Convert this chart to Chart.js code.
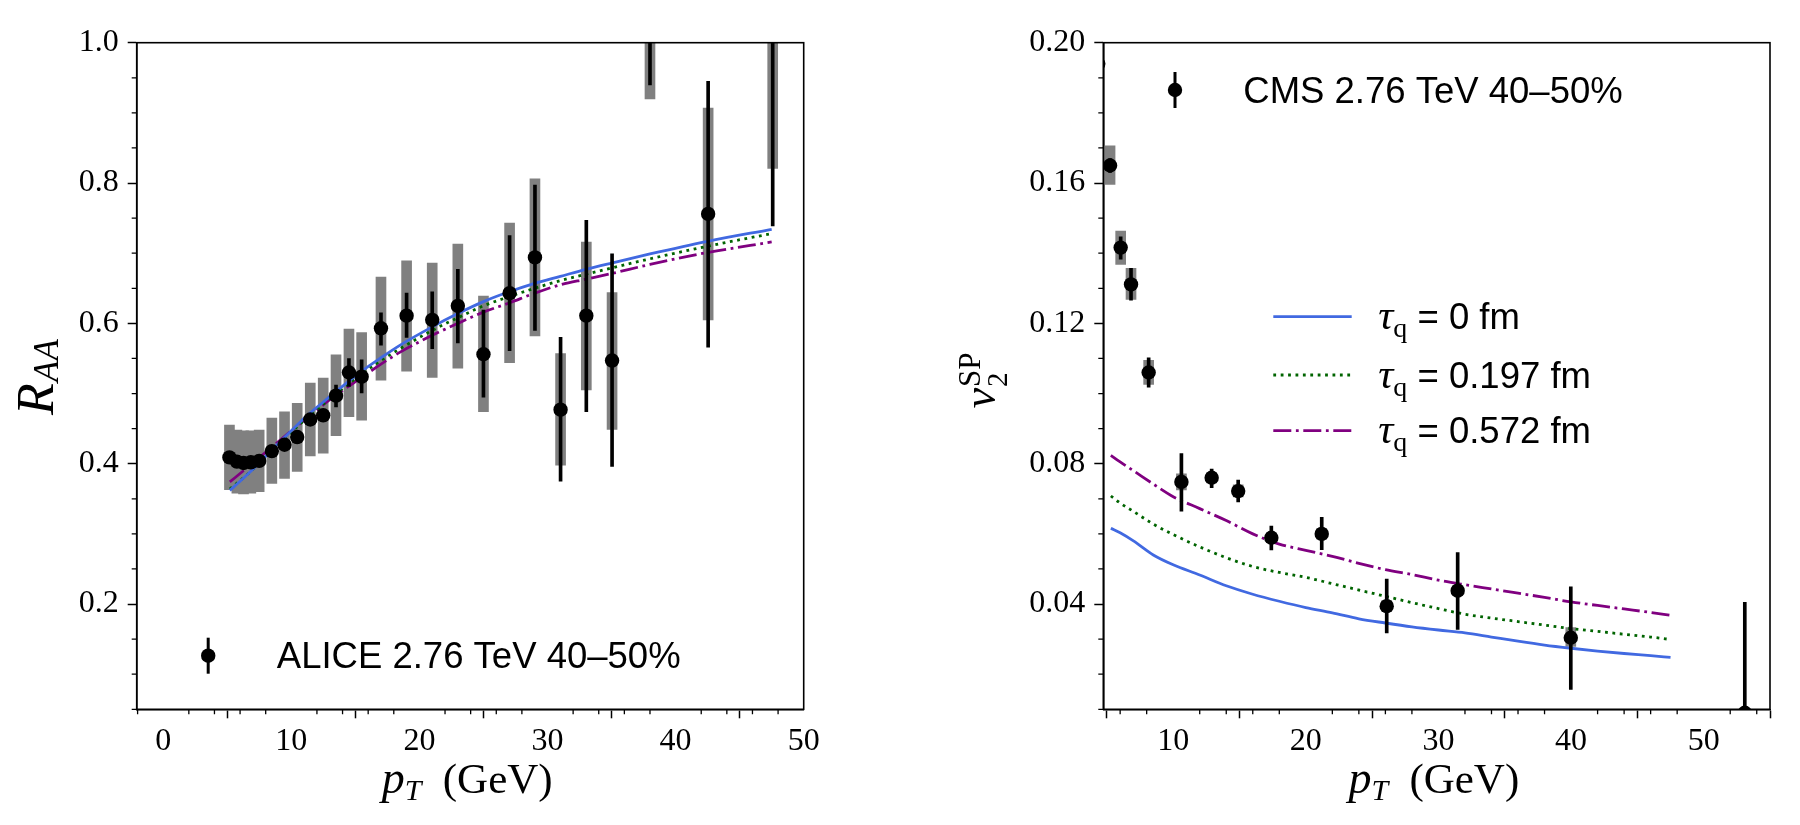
<!DOCTYPE html>
<html>
<head>
<meta charset="utf-8">
<script src="https://cdn.jsdelivr.net/npm/chart.js@4.4.1/dist/chart.umd.min.js"></script>
<style>
  html, body { margin: 0; padding: 0; background: #fff; }
  #wrap { position: relative; width: 1800px; height: 825px; }
  canvas { position: absolute; top: 0; }
  #raaChart { left: 0; }
  #v2Chart { left: 900px; }
</style>
</head>
<body>
<div id="wrap">
  <canvas id="raaChart" width="900" height="825"></canvas>
  <canvas id="v2Chart" width="900" height="825"></canvas>
</div>
<script>
// ---- left panel: ALICE R_AA 40-50% ----
const aliceX = [5.17, 5.75, 6.27, 6.84, 7.49, 8.48, 9.47, 10.46, 11.48, 12.49, 13.49, 14.5, 15.49, 17.0, 19.0, 21.0, 23.0, 25.0, 27.04, 29.02, 31.02, 33.03, 35.04, 38.0, 42.54, 47.58];
const aliceY = [0.409, 0.403, 0.401, 0.402, 0.404, 0.418, 0.427, 0.438, 0.463, 0.469, 0.497, 0.530, 0.524, 0.593, 0.611, 0.605, 0.625, 0.556, 0.643, 0.694, 0.477, 0.611, 0.547, 1.10, 0.756, 1.12];
const aliceStatLo = [0.405, 0.399, 0.397, 0.398, 0.400, 0.414, 0.422, 0.433, 0.457, 0.463, 0.481, 0.510, 0.501, 0.569, 0.580, 0.564, 0.572, 0.495, 0.561, 0.590, 0.375, 0.474, 0.396, 0.94, 0.566, 0.739];
const aliceStatHi = [0.413, 0.407, 0.405, 0.406, 0.408, 0.422, 0.431, 0.443, 0.469, 0.475, 0.512, 0.550, 0.548, 0.615, 0.643, 0.645, 0.677, 0.619, 0.725, 0.797, 0.580, 0.747, 0.699, 1.26, 0.945, 1.50];
const aliceSysLo = [0.363, 0.358, 0.357, 0.358, 0.360, 0.372, 0.379, 0.389, 0.411, 0.415, 0.440, 0.467, 0.462, 0.519, 0.532, 0.523, 0.536, 0.474, 0.544, 0.582, 0.398, 0.505, 0.449, 0.92, 0.605, 0.821];
const aliceSysHi = [0.455, 0.448, 0.447, 0.447, 0.448, 0.465, 0.474, 0.486, 0.515, 0.522, 0.555, 0.592, 0.587, 0.666, 0.689, 0.686, 0.713, 0.639, 0.743, 0.806, 0.557, 0.716, 0.644, 1.28, 0.907, 1.42];

// model curves for R_AA
const raaCurveX = [5.2, 6, 7, 8.5, 10, 11.2, 12.5, 13.5, 15.5, 17, 18.5, 21, 23, 25, 27, 29, 31, 33, 35, 38, 42.5, 47.5];
const raaTau0 = [0.362, 0.375, 0.392, 0.420, 0.447, 0.468, 0.488, 0.503, 0.532, 0.551, 0.569, 0.595, 0.614, 0.631, 0.645, 0.657, 0.667, 0.677, 0.686, 0.699, 0.717, 0.734];
const raaTau197 = [0.364, 0.376, 0.392, 0.419, 0.445, 0.465, 0.485, 0.500, 0.528, 0.547, 0.564, 0.590, 0.608, 0.625, 0.638, 0.650, 0.661, 0.670, 0.679, 0.692, 0.710, 0.728];
const raaTau572 = [0.374, 0.386, 0.401, 0.424, 0.447, 0.465, 0.484, 0.498, 0.523, 0.542, 0.559, 0.583, 0.600, 0.616, 0.629, 0.643, 0.655, 0.663, 0.671, 0.684, 0.701, 0.716];

const raaXTicks = [0, 10, 20, 30, 40, 50];
const raaYTicks = [0.2, 0.4, 0.6, 0.8, 1.0];
const raaXMinor = [-2, 2, 4, 6, 8, 12, 14, 16, 18, 22, 24, 26, 28, 32, 34, 36, 38, 42, 44, 46, 48];
const raaYMinor = [0.05, 0.1, 0.15, 0.25, 0.3, 0.35, 0.45, 0.5, 0.55, 0.65, 0.7, 0.75, 0.85, 0.9, 0.95];

// ---- right panel: CMS v2{SP} 40-50% ----
const cmsX = [4.35, 5.24, 6.04, 6.82, 8.15, 10.62, 12.9, 14.9, 17.4, 21.2, 26.1, 31.45, 39.98, 53.1];
const cmsY = [0.194, 0.165, 0.1416, 0.1311, 0.106, 0.0748, 0.0760, 0.0722, 0.0589, 0.0600, 0.0394, 0.0438, 0.0304, 0.009];
const cmsStatLo = [0.192, 0.163, 0.1383, 0.1266, 0.1018, 0.0665, 0.0732, 0.0691, 0.0554, 0.0555, 0.0318, 0.0328, 0.0157, 0.0];
const cmsStatHi = [0.196, 0.167, 0.1447, 0.1357, 0.1102, 0.0829, 0.0785, 0.0753, 0.0622, 0.0647, 0.0471, 0.0547, 0.0449, 0.0405];
const cmsSysLo = [0.190, 0.1596, 0.1368, 0.1268, 0.1026, 0.0725, 0.0745, 0.0705, 0.0575, 0.0585, 0.0380, 0.0425, 0.0279, 0.008];
const cmsSysHi = [0.198, 0.1706, 0.1463, 0.1357, 0.1095, 0.0771, 0.0775, 0.0740, 0.0603, 0.0615, 0.0410, 0.0451, 0.0333, 0.010];

// model curves for v2
const v2CurveX = [5.3, 6, 7, 8.5, 10, 12, 14, 16, 18, 20, 22, 24, 26, 28, 30, 32, 34, 36, 38, 40, 42, 44, 46, 47.5];
const v2Tau0 = [0.0616, 0.0603, 0.0580, 0.0540, 0.0512, 0.0483, 0.0452, 0.0428, 0.0408, 0.0390, 0.0375, 0.0358, 0.0346, 0.0335, 0.0326, 0.0318, 0.0306, 0.0294, 0.0283, 0.0274, 0.0266, 0.0259, 0.0253, 0.0248];
const v2Tau197 = [0.0708, 0.0688, 0.0664, 0.0628, 0.0598, 0.0563, 0.0532, 0.0507, 0.0490, 0.0476, 0.0458, 0.0440, 0.0422, 0.0404, 0.0387, 0.0371, 0.0360, 0.0350, 0.0340, 0.0330, 0.0322, 0.0314, 0.0306, 0.0299];
const v2Tau572 = [0.0824, 0.0805, 0.0780, 0.0742, 0.0706, 0.0672, 0.0638, 0.0600, 0.0571, 0.0553, 0.0536, 0.0516, 0.0498, 0.0484, 0.0468, 0.0455, 0.0443, 0.0431, 0.0419, 0.0406, 0.0396, 0.0386, 0.0376, 0.0368];

const v2XTicks = [10, 20, 30, 40, 50];
const v2YTicks = [0.04, 0.08, 0.12, 0.16, 0.20];
const v2XMinor = [6, 8, 12, 14, 16, 18, 22, 24, 26, 28, 32, 34, 36, 38, 42, 44, 46, 48, 52, 54];
const v2YMinor = [0.01, 0.02, 0.03, 0.05, 0.06, 0.07, 0.09, 0.10, 0.11, 0.13, 0.14, 0.15, 0.17, 0.18, 0.19];

const SERIF = "'Liberation Serif', 'Times New Roman', serif";
const SANS = "'Liberation Sans', Arial, sans-serif";
const BLUE = "#4169e1";
const GREEN = "#006400";
const PURPLE = "#800080";
const GREY = "#808080";
const DOT = 7.2;

const pts = (xs, ys) => xs.map((x, i) => ({ x: x, y: ys[i] }));
const ranges = (xs, lo, hi) => xs.map((x, i) => ({ x: x, y: [lo[i], hi[i]] }));

function curve(xs, ys, color, dash) {
  return {
    type: "line",
    data: pts(xs, ys),
    borderColor: color,
    borderWidth: 2.8,
    borderDash: dash,
    borderCapStyle: "butt",
    pointRadius: 0,
    fill: false,
    cubicInterpolationMode: "monotone",
    clip: 0,
    order: 4,
  };
}

function panelDatasets(d) {
  return [
    // systematic boxes
    { type: "bar", data: ranges(d.x, d.sysLo, d.sysHi), backgroundColor: GREY, barThickness: 10, grouped: false, clip: 0, order: 5 },
    curve(d.curveX, d.tau0, BLUE, []),
    curve(d.curveX, d.tau197, GREEN, [2.8, 4.6]),
    curve(d.curveX, d.tau572, PURPLE, [18, 4.6, 2.8, 4.6]),
    // statistical error bars
    { type: "bar", data: ranges(d.x, d.statLo, d.statHi), backgroundColor: "#000", barThickness: 3, grouped: false, clip: 0, order: 2 },
    { type: "scatter", data: pts(d.x, d.y), backgroundColor: "#000", borderWidth: 0, pointRadius: DOT, clip: 0, order: 1 },
  ];
}

function axisScales(o) {
  const tickFont = { family: SERIF, size: 32 };
  const grid = { display: true, drawOnChartArea: false, drawTicks: true, tickLength: 9, tickWidth: 1.5, tickColor: "#000" };
  const border = { display: true, color: "#000", width: 1.6 };
  return {
    x: {
      type: "linear", position: "bottom", min: o.xMin, max: o.xMax, offset: false, grid: grid, border: border,
      ticks: { font: tickFont, color: "#000", padding: 4, maxRotation: 0, autoSkip: false, callback: (v) => String(v) },
      afterBuildTicks: (s) => { s.ticks = o.xTicks.map((v) => ({ value: v })); },
      afterFit: (s) => { s.height = 60; },
    },
    y: {
      type: "linear", position: "left", min: o.yMin, max: o.yMax, grid: grid, border: border,
      ticks: { font: tickFont, color: "#000", padding: 9, autoSkip: false, callback: (v) => v.toFixed(o.yDigits) },
      afterBuildTicks: (s) => { s.ticks = o.yTicks.map((v) => ({ value: v })); },
      afterFit: (s) => { s.width = o.yWidth; },
    },
  };
}

// draws pieces of text one after the other: [text, font, baseline shift]
function drawRuns(ctx, x, y, runs) {
  ctx.textAlign = "left";
  ctx.textBaseline = "alphabetic";
  ctx.fillStyle = "#000";
  runs.forEach(([t, font, dy]) => {
    ctx.font = font;
    ctx.fillText(t, x, y + (dy || 0));
    x += ctx.measureText(t).width;
  });
  return x;
}

function dataMarker(ctx, x, y) {
  ctx.fillStyle = "#000";
  ctx.fillRect(x - 1.5, y - 18, 3, 36);
  ctx.beginPath();
  ctx.arc(x, y, DOT, 0, Math.PI * 2);
  ctx.fill();
}

function xTitle(ctx, x0) {
  drawRuns(ctx, x0, 793, [["p", "italic 46px " + SERIF]]);
  drawRuns(ctx, x0 + 23, 800, [["T", "italic 30px " + SERIF]]);
  drawRuns(ctx, x0 + 61, 793, [["(GeV)", "43px " + SERIF]]);
}

// axes frame, minor ticks and the hand placed texts
function framePlugin(minorX, minorY, extras) {
  return {
    id: "frame",
    afterDraw(chart) {
      const { ctx, chartArea: a, scales } = chart;
      ctx.save();
      ctx.strokeStyle = "#000";
      ctx.lineWidth = 1.3;
      ctx.beginPath();
      minorX.forEach((v) => {
        const px = scales.x.getPixelForValue(v);
        ctx.moveTo(px, a.bottom);
        ctx.lineTo(px, a.bottom + 5);
      });
      minorY.forEach((v) => {
        const py = scales.y.getPixelForValue(v);
        ctx.moveTo(a.left, py);
        ctx.lineTo(a.left - 5, py);
      });
      ctx.stroke();
      ctx.lineWidth = 1.6;
      ctx.strokeRect(a.left, a.top, a.right - a.left, a.bottom - a.top);
      extras(ctx);
      ctx.restore();
    },
  };
}

const commonOptions = {
  responsive: false,
  animation: false,
  events: [],
  plugins: { legend: { display: false }, tooltip: { enabled: false } },
};

// Left chart
new Chart(document.getElementById("raaChart").getContext("2d"), {
  type: "scatter",
  data: {
    datasets: panelDatasets({
      x: aliceX, y: aliceY, statLo: aliceStatLo, statHi: aliceStatHi, sysLo: aliceSysLo, sysHi: aliceSysHi,
      curveX: raaCurveX, tau0: raaTau0, tau197: raaTau197, tau572: raaTau572,
    }),
  },
  options: Object.assign({}, commonOptions, {
    layout: { padding: { left: 0, top: 42.7, right: 96.3, bottom: 55.7 } },
    scales: axisScales({ xMin: -2.07, xMax: 50, xTicks: raaXTicks, yMin: 0.05, yMax: 1.0, yTicks: raaYTicks, yDigits: 1, yWidth: 136.7 }),
  }),
  plugins: [
    framePlugin(raaXMinor, raaYMinor, (ctx) => {
      dataMarker(ctx, 208.2, 655.7);
      drawRuns(ctx, 276.8, 668.3, [["ALICE 2.76 TeV 40\u201350%", "36.5px " + SANS]]);
      xTitle(ctx, 381.8);
      ctx.save();
      ctx.translate(53, 415);
      ctx.rotate(-Math.PI / 2);
      drawRuns(ctx, 0, 0, [["R", "italic 52px " + SERIF]]);
      drawRuns(ctx, 33, 5, [["AA", "italic 35px " + SERIF]]);
      ctx.restore();
    }),
  ],
});

// Right chart
new Chart(document.getElementById("v2Chart").getContext("2d"), {
  type: "scatter",
  data: {
    datasets: panelDatasets({
      x: cmsX, y: cmsY, statLo: cmsStatLo, statHi: cmsStatHi, sysLo: cmsSysLo, sysHi: cmsSysHi,
      curveX: v2CurveX, tau0: v2Tau0, tau197: v2Tau197, tau572: v2Tau572,
    }),
  },
  options: Object.assign({}, commonOptions, {
    layout: { padding: { left: 0, top: 42.7, right: 30, bottom: 55.7 } },
    scales: axisScales({ xMin: 4.73, xMax: 55, xTicks: v2XTicks, yMin: 0.01, yMax: 0.2, yTicks: v2YTicks, yDigits: 2, yWidth: 203.3 }),
  }),
  plugins: [
    framePlugin(v2XMinor, v2YMinor, (ctx) => {
      dataMarker(ctx, 275, 90);
      drawRuns(ctx, 343.3, 103.3, [["CMS 2.76 TeV 40\u201350%", "36.5px " + SANS]]);
      // curve legend
      const rows = [
        { y: 316.7, color: BLUE, dash: [], label: " = 0 fm" },
        { y: 375, color: GREEN, dash: [2.8, 4.6], label: " = 0.197 fm" },
        { y: 430.7, color: PURPLE, dash: [18, 4.6, 2.8, 4.6], label: " = 0.572 fm" },
      ];
      rows.forEach((r) => {
        ctx.strokeStyle = r.color;
        ctx.lineWidth = 2.8;
        ctx.setLineDash(r.dash);
        ctx.beginPath();
        ctx.moveTo(373.3, r.y);
        ctx.lineTo(451.7, r.y);
        ctx.stroke();
        ctx.setLineDash([]);
        const x = drawRuns(ctx, 478.3, r.y + 12.5, [["\u03c4", "italic 42px " + SERIF], ["q", "28px " + SERIF, 8]]);
        drawRuns(ctx, x, r.y + 12.5, [[r.label, "36.5px " + SANS]]);
      });
      xTitle(ctx, 448.4);
      ctx.save();
      ctx.translate(95, 408.3);
      ctx.rotate(-Math.PI / 2);
      const vx = drawRuns(ctx, 0, 0, [["v", "italic 46px " + SERIF]]);
      drawRuns(ctx, vx + 1, 12, [["2", "29px " + SERIF]]);
      drawRuns(ctx, vx + 1, -15, [["SP", "31px " + SERIF]]);
      ctx.restore();
    }),
  ],
});
</script>
</body>
</html>
